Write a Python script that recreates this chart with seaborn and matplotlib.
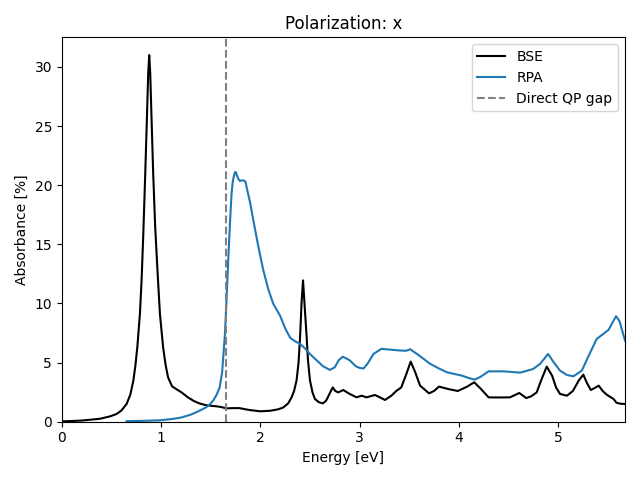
import matplotlib
matplotlib.use("Agg")
import matplotlib.pyplot as plt
import seaborn as sns
import pandas as pd

bse_energy = [0.0, 0.1, 0.2, 0.3, 0.383, 0.484, 0.55, 0.6, 0.652, 0.69, 0.72, 0.74, 0.76,
              0.786, 0.803, 0.82, 0.84, 0.86, 0.87, 0.88, 0.89, 0.90, 0.92, 0.94, 0.965,
              0.988, 1.02, 1.045, 1.07, 1.11, 1.15, 1.206, 1.27, 1.33, 1.385, 1.45, 1.5,
              1.56, 1.6, 1.66, 1.72, 1.79, 1.85, 1.9, 2.0, 2.1, 2.18, 2.23, 2.28, 2.315,
              2.34, 2.365, 2.385, 2.40, 2.415, 2.43, 2.445, 2.467, 2.48, 2.5, 2.525, 2.55,
              2.59, 2.63, 2.66, 2.68, 2.705, 2.73, 2.755, 2.785, 2.835, 2.9, 2.97, 3.02,
              3.07, 3.155, 3.205, 3.256, 3.32, 3.37, 3.42, 3.47, 3.515, 3.56, 3.61, 3.70,
              3.75, 3.80, 3.90, 3.99, 4.08, 4.155, 4.22, 4.30, 4.40, 4.515, 4.61, 4.68,
              4.73, 4.785, 4.83, 4.886, 4.94, 4.98, 5.02, 5.09, 5.15, 5.21, 5.255, 5.29,
              5.33, 5.38, 5.41, 5.45, 5.49, 5.56, 5.59, 5.63, 5.675]
bse_abs = [0.03, 0.06, 0.1, 0.18, 0.25, 0.45, 0.65, 0.95, 1.5, 2.3, 3.47, 4.7, 6.3,
           9.1, 11.95, 15.8, 21.0, 26.6, 29.5, 31.0, 29.5, 26.6, 21.0, 16.5, 12.5,
           9.1, 6.3, 4.8, 3.75, 3.0, 2.77, 2.48, 2.06, 1.75, 1.55, 1.4, 1.35,
           1.3, 1.25, 1.13, 1.15, 1.15, 1.05, 0.98, 0.88, 0.93, 1.05, 1.2, 1.55, 2.06,
           2.6, 3.5, 5.0, 7.1, 10.0, 11.95, 10.0, 7.1, 5.2, 3.5, 2.5, 1.92,
           1.65, 1.55, 1.75, 2.06, 2.5, 2.9, 2.6, 2.48, 2.68, 2.35, 2.06, 2.2,
           2.06, 2.26, 2.06, 1.84, 2.2, 2.6, 2.9, 4.0, 5.08, 4.2, 3.05, 2.4,
           2.6, 2.97, 2.75, 2.6, 2.95, 3.33, 2.8, 2.06, 2.05, 2.06, 2.43, 2.0,
           2.15, 2.48, 3.5, 4.66, 3.9, 2.9, 2.35, 2.2, 2.6, 3.5, 3.98, 3.3,
           2.68, 2.9, 3.05, 2.6, 2.29, 1.92, 1.6, 1.52, 1.5]

rpa_energy = [0.652, 0.8, 0.99, 1.1, 1.2, 1.3, 1.38, 1.45, 1.49, 1.53, 1.56, 1.59, 1.615,
              1.643, 1.66, 1.676, 1.695, 1.71, 1.722, 1.734, 1.745, 1.754, 1.765, 1.78,
              1.795, 1.81, 1.83, 1.85, 1.87, 1.895, 1.93, 1.98, 2.03, 2.08, 2.13, 2.198,
              2.25, 2.30, 2.35, 2.40, 2.45, 2.5, 2.57, 2.63, 2.70, 2.75, 2.79, 2.83,
              2.9, 2.96, 3.0, 3.04, 3.08, 3.14, 3.22, 3.3, 3.41, 3.47, 3.51, 3.6, 3.71,
              3.8, 3.88, 4.03, 4.1, 4.16, 4.22, 4.30, 4.45, 4.62, 4.75, 4.82, 4.90, 4.95,
              5.02, 5.09, 5.155, 5.24, 5.31, 5.39, 5.51, 5.55, 5.585, 5.62, 5.675]
rpa_abs = [0.05, 0.07, 0.12, 0.22, 0.35, 0.6, 0.9, 1.2, 1.45, 1.85, 2.3, 2.9, 4.2,
           7.4, 10.5, 13.6, 17.0, 19.3, 20.3, 20.8, 21.1, 21.1, 20.8, 20.5,
           20.35, 20.4, 20.4, 20.3, 19.5, 18.6, 17.0, 14.8, 12.8, 11.2, 9.97, 8.98,
           7.9, 7.1, 6.8, 6.58, 6.2, 5.73, 5.17, 4.7, 4.38, 4.6, 5.2, 5.5,
           5.2, 4.7, 4.55, 4.5, 4.9, 5.73, 6.16, 6.1, 6.02, 6.0, 6.13, 5.6, 4.9,
           4.5, 4.18, 3.9, 3.7, 3.56, 3.8, 4.26, 4.26, 4.15, 4.46, 4.9, 5.73, 5.1,
           4.32, 3.95, 3.84, 4.32, 5.6, 7.0, 7.77, 8.4, 8.92, 8.5, 6.86]

qp_gap = 1.65

bse_df = pd.DataFrame({"Energy": bse_energy, "Absorbance": bse_abs})
rpa_df = pd.DataFrame({"Energy": rpa_energy, "Absorbance": rpa_abs})

fig, ax = plt.subplots(figsize=(6.4, 4.8), dpi=100)
sns.lineplot(data=bse_df, x="Energy", y="Absorbance", color="black", label="BSE",
             estimator=None, sort=False, ax=ax)
sns.lineplot(data=rpa_df, x="Energy", y="Absorbance", color="#1f77b4", label="RPA",
             estimator=None, sort=False, ax=ax)
ax.axvline(qp_gap, color="gray", linestyle="--", label="Direct QP gap")

ax.set_xlim(0, 5.675)
ax.set_ylim(0, 32.5)
ax.set_title("Polarization: x")
ax.set_xlabel("Energy [eV]")
ax.set_ylabel("Absorbance [%]")
ax.legend(loc="upper right")
fig.tight_layout()
fig.savefig("out.png", dpi=100)
